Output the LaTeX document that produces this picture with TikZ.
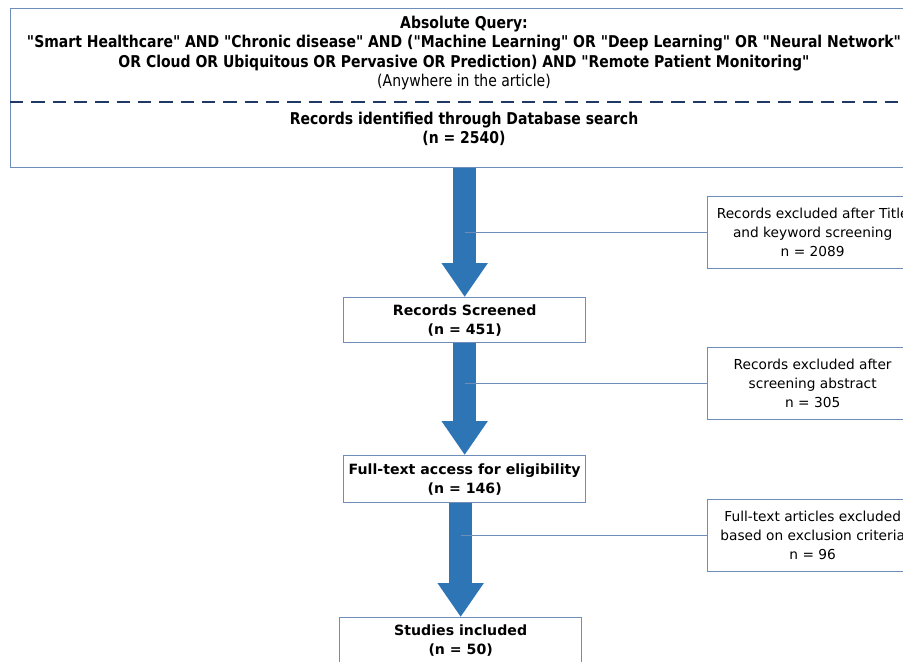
\documentclass[tikz,border=0pt]{standalone}
\usepackage{fontspec}
\setmainfont{DejaVu Sans}
\newfontfamily\narrowfont[FakeStretch=0.86]{DejaVu Sans}
\usetikzlibrary{arrows.meta}
\definecolor{flowblue}{HTML}{2E75B6}
\definecolor{boxline}{HTML}{6F8DB9}
\definecolor{navy}{HTML}{203864}
\tikzset{
  box/.style={draw=boxline, line width=1pt, fill=white, anchor=north west, inner sep=0pt},
  stagebox/.style={box, minimum width=181.5pt, align=center, font=\fontsize{10.6}{14.25}\selectfont\bfseries},
  exbox/.style={box, minimum width=157.5pt, minimum height=54pt, align=center, font=\fontsize{10.3}{14.2}\selectfont},
  toptext/.style={align=center, font=\narrowfont\fontsize{12.2}{14.5}\selectfont},
  bigarrow/.style={draw=flowblue, line width=17pt, -{Triangle[width=33pt,length=25.5pt]}},
  feed/.style={draw=boxline, line width=0.8pt}
}
\begin{document}
\begin{tikzpicture}[x=0.75pt,y=-0.75pt]
\useasboundingbox (0,0) rectangle (903,661);
\fill[white] (0,0) rectangle (903,661);

% database search block
\node[box, minimum width=685.5pt, minimum height=119.25pt] (db) at (10,8) {};
\draw[navy, line width=1.6pt, dash pattern=on 10pt off 6pt] (db.west |- 0,102) -- (db.east |- 0,102);
\node[toptext] (query) at (464,53) {\textbf{Absolute Query:}\\
\textbf{"Smart Healthcare" AND "Chronic disease" AND ("Machine Learning" OR "Deep Learning" OR "Neural Network"}\\
\textbf{OR Cloud OR Ubiquitous OR Pervasive OR Prediction) AND "Remote Patient Monitoring"}\\
(Anywhere in the article)};
\node[toptext, font=\narrowfont\bfseries\fontsize{12.2}{14.3}\selectfont] (ident) at (464,129) {Records identified through Database search\\(n = 2540)};

% stages
\node[stagebox, minimum height=33.75pt] (screened) at (343,297) {Records Screened\\(n = 451)};
\node[stagebox, minimum height=35.25pt] (fulltext) at (343,455) {Full-text access for eligibility\\(n = 146)};
\node[stagebox, minimum height=40pt, text depth=7pt] (studies) at (339,617) {Studies included\\(n = 50)};

% exclusions
\node[exbox] (ex1) at (707,196) {Records excluded after Title\\and keyword screening\\n = 2089};
\node[exbox] (ex2) at (707,347) {Records excluded after\\screening abstract\\n = 305};
\node[exbox] (ex3) at (707,499) {Full-text articles excluded\\based on exclusion criteria\\n = 96};

% main flow
\draw[bigarrow] (db.south -| screened.north) -- (screened.north);
\draw[bigarrow] (screened.south) -- (fulltext.north);
\draw[bigarrow] (fulltext.south -| studies.north) -- (studies.north);

% side branches
\draw[feed] (ex1.west -| screened.north) -- (ex1.west);
\draw[feed] (ex2.west -| screened.south) -- (ex2.west);
\draw[feed] (ex3.west -| studies.north) -- (ex3.west);
\end{tikzpicture}
\end{document}
